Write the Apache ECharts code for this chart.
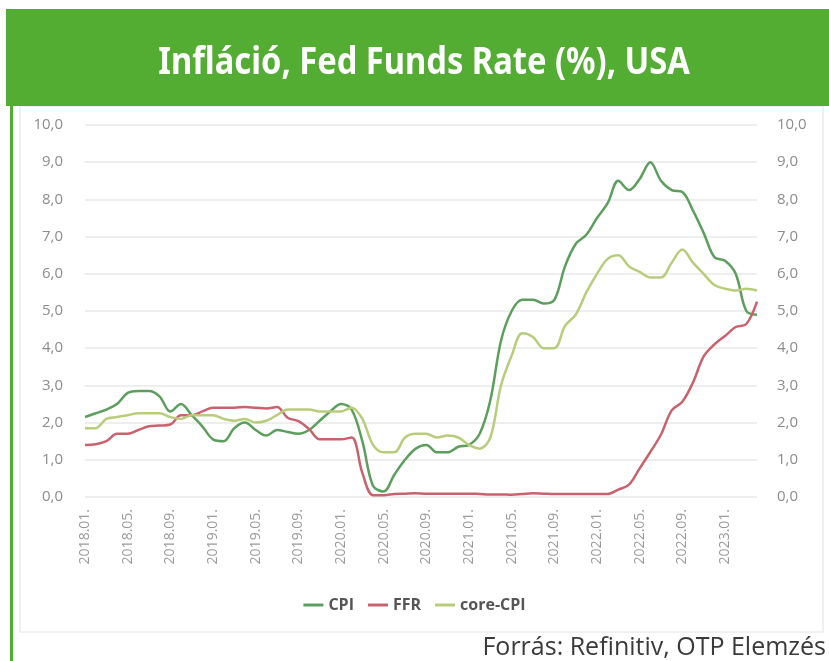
<!DOCTYPE html>
<html>
<head>
<meta charset="utf-8">
<script src="https://cdn.jsdelivr.net/npm/echarts@6/dist/echarts.min.js"></script>
<style>
  html, body { margin: 0; padding: 0; background: #fff; }
  #chart { width: 829px; height: 661px; }
</style>
</head>
<body>
<div id="chart"></div>
<script>
// havi adatok 2018.01 - 2023.04
const honapok = [];
for (let ev = 2018; ev <= 2023; ev++) {
  for (let h = 1; h <= 12; h++) {
    if (ev === 2023 && h > 4) break;
    honapok.push(`${ev}.${h < 10 ? "0" + h : h}.`);
  }
}

const cpi = [
  2.15, 2.25, 2.35, 2.5, 2.8, 2.85, 2.85, 2.7, 2.3, 2.5, 2.2, 1.9,
  1.55, 1.5, 1.85, 2.0, 1.8, 1.65, 1.8, 1.75, 1.7, 1.8, 2.05, 2.3,
  2.5, 2.35, 1.5, 0.3, 0.15, 0.6, 1.0, 1.3, 1.4, 1.2, 1.2, 1.35,
  1.4, 1.7, 2.6, 4.2, 5.0, 5.3, 5.3, 5.2, 5.3, 6.2, 6.8, 7.05,
  7.5, 7.9, 8.5, 8.25, 8.55, 9.0, 8.5, 8.25, 8.2, 7.7, 7.1, 6.45,
  6.35, 6.0, 5.0, 4.9,
];

const ffr = [
  1.4, 1.42, 1.5, 1.7, 1.7, 1.8, 1.9, 1.92, 1.95, 2.2, 2.2, 2.3,
  2.4, 2.4, 2.4, 2.42, 2.4, 2.38, 2.42, 2.13, 2.04, 1.83, 1.55, 1.55,
  1.55, 1.6, 0.65, 0.05, 0.05, 0.08, 0.09, 0.1, 0.09, 0.09, 0.09, 0.09,
  0.09, 0.08, 0.07, 0.07, 0.06, 0.08, 0.1, 0.09, 0.08, 0.08, 0.08, 0.08,
  0.08, 0.08, 0.2, 0.33, 0.77, 1.21, 1.68, 2.33, 2.56, 3.08, 3.78, 4.1,
  4.33, 4.57, 4.65, 5.25,
];

const coreCpi = [
  1.85, 1.85, 2.1, 2.15, 2.2, 2.25, 2.25, 2.25, 2.15, 2.1, 2.2, 2.2,
  2.2, 2.1, 2.05, 2.1, 2.0, 2.05, 2.2, 2.35, 2.35, 2.35, 2.3, 2.3,
  2.3, 2.4, 2.1, 1.4, 1.2, 1.2, 1.6, 1.7, 1.7, 1.6, 1.65, 1.6,
  1.4, 1.3, 1.6, 3.0, 3.8, 4.4, 4.3, 4.0, 4.0, 4.6, 4.9, 5.5,
  6.0, 6.4, 6.5, 6.2, 6.05, 5.9, 5.9, 6.3, 6.65, 6.3, 6.0, 5.7,
  5.6, 5.55, 5.6, 5.55,
];

const zold = "#53ad33";
const szinek = ["#5c9f5c", "#c8636d", "#b8cd7c"];

const myChart = echarts.init(document.getElementById("chart"));

// y tengely beallitasa (bal es jobb ugyanaz)
function yTengely(pos) {
  return {
    type: "value",
    position: pos,
    min: 0,
    max: 10,
    interval: 1,
    axisLine: { show: false },
    axisTick: { show: false },
    splitLine: { show: pos === "left", lineStyle: { color: "#e8e8e8", width: 1.5 } },
    axisLabel: {
      color: "#8c8c8c",
      fontSize: 15,
      fontFamily: "Open Sans",
      margin: pos === "left" ? 22 : 20,
      formatter: (v) => v.toFixed(1).replace(".", ","),
    },
  };
}

function vonal(nev, adat, szin) {
  return {
    name: nev,
    type: "line",
    data: adat,
    smooth: 0.35,
    symbol: "none",
    lineStyle: { color: szin, width: 2.5 },
    itemStyle: { color: szin },
  };
}

myChart.setOption({
  animation: false,
  color: szinek,
  graphic: [
    // zold fejlec
    { type: "rect", shape: { x: 6, y: 9, width: 823, height: 97 }, style: { fill: zold }, z: 0 },
    // bal oldali zold csik
    { type: "rect", shape: { x: 10, y: 9, width: 3, height: 652 }, style: { fill: zold }, z: 0 },
    // a diagram kerete
    {
      type: "rect",
      shape: { x: 20, y: 106, width: 803, height: 526 },
      style: { fill: "#fff", stroke: "#ececec", lineWidth: 1.5 },
      z: -1,
    },
    {
      type: "text",
      x: 424,
      y: 63,
      scaleX: 0.86,
      style: {
        text: "Infláció, Fed Funds Rate (%), USA",
        fill: "#fff",
        font: "bold 38px 'Noto Sans'",
        align: "center",
        verticalAlign: "middle",
      },
      z: 1,
    },
    {
      type: "text",
      x: 826,
      y: 648,
      style: {
        text: "Forrás: Refinitiv, OTP Elemzés",
        fill: "#3a3a3a",
        font: "25px 'Open Sans'",
        align: "right",
        verticalAlign: "middle",
      },
    },
  ],
  legend: {
    bottom: 43,
    left: "center",
    itemWidth: 20,
    itemHeight: 3,
    itemGap: 14,
    icon: "rect",
    textStyle: { color: "#555", fontSize: 16, fontWeight: "bold", fontFamily: "Open Sans" },
    data: ["CPI", "FFR", "core-CPI"],
  },
  grid: { left: 85, right: 72, top: 125, bottom: 164 },
  xAxis: {
    type: "category",
    boundaryGap: false,
    data: honapok,
    axisLine: { show: false },
    axisTick: { show: false },
    axisLabel: {
      interval: 3,
      rotate: 90,
      color: "#9a9a9a",
      fontSize: 14,
      fontFamily: "Open Sans",
      margin: 12,
    },
  },
  yAxis: [yTengely("left"), yTengely("right")],
  series: [
    vonal("CPI", cpi, szinek[0]),
    vonal("FFR", ffr, szinek[1]),
    vonal("core-CPI", coreCpi, szinek[2]),
  ],
});
</script>
</body>
</html>
